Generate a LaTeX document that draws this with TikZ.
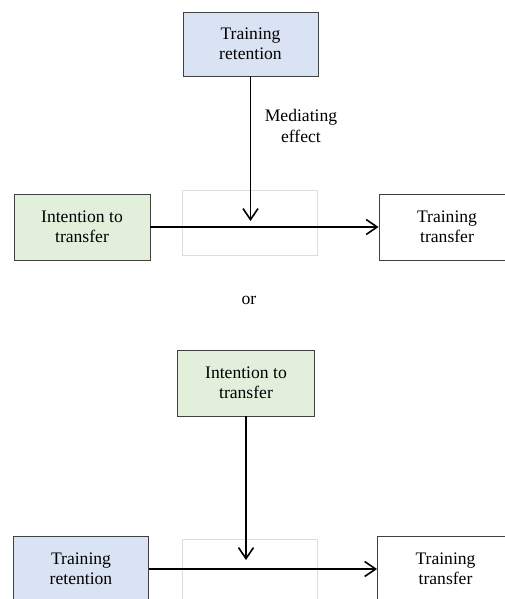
\documentclass[tikz,border=0pt]{standalone}
\usepackage{fontspec}
\setmainfont{Liberation Serif}
\usetikzlibrary{arrows.meta}

\definecolor{retfill}{HTML}{DAE3F3}
\definecolor{intfill}{HTML}{E2EFDA}
\definecolor{boxline}{HTML}{404040}
\definecolor{ghostline}{HTML}{DDDDDD}

\tikzset{
  concept/.style={draw=boxline, line width=0.9pt, rectangle, align=center,
    minimum width=136pt, minimum height=66pt, inner sep=0pt,
    font=\fontsize{17.6}{19.5}\selectfont},
  ghost/.style={draw=ghostline, line width=0.9pt, rectangle,
    minimum width=134.5pt, minimum height=64.5pt, inner sep=0pt},
  link/.style={line width=1.6pt, black,
    -{Straight Barb[length=11pt,width=15pt,line width=1.6pt]}},
  label/.style={align=center, font=\fontsize{17.6}{21}\selectfont}
}

\begin{document}
\begin{tikzpicture}[x=1pt,y=-1pt]
  \useasboundingbox (0,0) rectangle (505,599);
  \clip (0,0) rectangle (505,599);

  % upper model: retention as mediator
  \node[ghost] (gap1) at (250,223) {};
  \node[concept, fill=retfill, minimum width=135pt, minimum height=64pt] (ret1) at (250.5,44) {Training\\retention};
  \node[concept, fill=intfill] (int1) at (82,227) {Intention to\\transfer};
  \node[concept, fill=white] (tr1) at (447,227) {Training\\transfer};
  \coordinate (hit1) at (250.5,221);
  \draw[link] (ret1.south) -- (hit1);
  \draw[link] (int1.east) -- (tr1.west);
  \node[label] (med) at (301,126) {Mediating\\effect};

  \node[label] (or) at (249,300) {or};

  % lower model: intention as mediator
  \node[ghost] (gap2) at (250,572) {};
  \node[concept, fill=intfill, minimum width=137pt] (int2) at (246,383) {Intention to\\transfer};
  \node[concept, fill=retfill, minimum width=135pt] (ret2) at (81,569) {Training\\retention};
  \node[concept, fill=white] (tr2) at (445.5,569) {Training\\transfer};
  \coordinate (hit2) at (246,560);
  \draw[link] (int2.south) -- (hit2);
  \draw[link] (ret2.east) -- (tr2.west);
\end{tikzpicture}
\end{document}
